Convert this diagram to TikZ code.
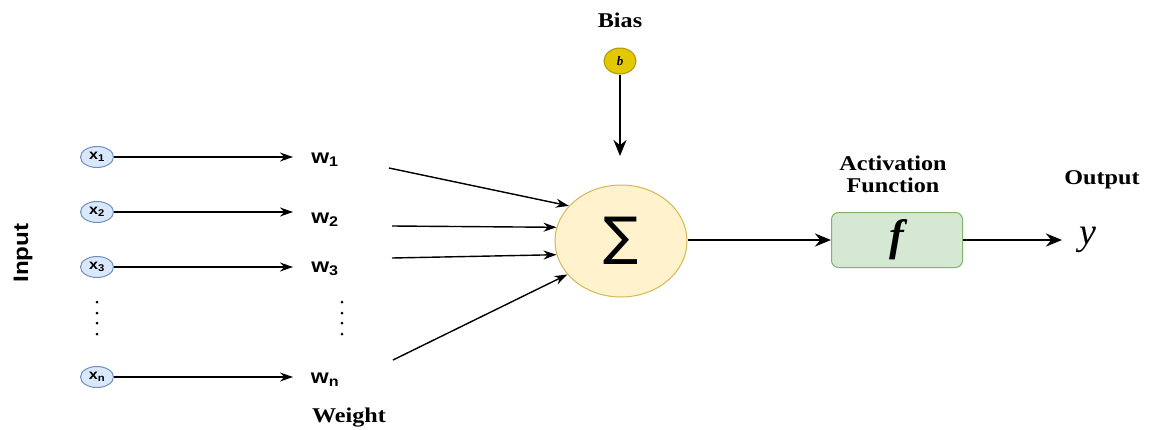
\documentclass[tikz,border=0pt]{standalone}
\usepackage{fontspec}
\usetikzlibrary{shapes.geometric,arrows.meta}
\newfontfamily\lsans[FakeStretch=1.15]{Liberation Sans}
\newfontfamily\lserif[FakeStretch=1.15]{Liberation Serif}
\newfontfamily\lserifplain{Liberation Serif}
\newfontfamily\dvsans{DejaVu Sans}
\font\fbi="Liberation Serif/BI" at 44pt
\definecolor{inFill}{HTML}{DAE8FC}
\definecolor{inLine}{HTML}{6C8EBF}
\definecolor{bFill}{HTML}{E3C800}
\definecolor{bLine}{HTML}{B09500}
\definecolor{sFill}{HTML}{FFF2CC}
\definecolor{sLine}{HTML}{D6B656}
\definecolor{fFill}{HTML}{D5E8D4}
\definecolor{fLine}{HTML}{82B366}
\begin{document}
\begin{tikzpicture}[x=1pt,y=-1pt,
  xin/.style={ellipse,draw=inLine,fill=inFill,line width=1pt,minimum width=33pt,minimum height=21pt,inner sep=0pt,font=\lsans\bfseries\fontsize{14}{14}\selectfont},
  wlab/.style={inner sep=0pt,font=\lsans\bfseries\fontsize{20}{20}\selectfont},
  ttl/.style={inner sep=0pt,font=\lserif\bfseries\fontsize{21}{22}\selectfont,align=center},
  thin/.style={line width=1.4pt,-{Stealth[length=13pt,width=9pt]}},
  thick/.style={line width=2.8pt,-{Stealth[length=16pt,width=13pt]}},
  dotm/.style={circle,fill=black,inner sep=0pt,minimum size=3pt}]
\useasboundingbox (0,0) rectangle (1149,429);
% inputs
\node[xin] (x1) at (97,157) {x\textsubscript{1}};
\node[xin] (x2) at (97,212) {x\textsubscript{2}};
\node[xin] (x3) at (97,267) {x\textsubscript{3}};
\node[xin] (xn) at (97,377) {x\textsubscript{n}};
% weights
\node[wlab] (w1) at (325,160) {w\textsubscript{1}};
\node[wlab] (w2) at (325,220) {w\textsubscript{2}};
\node[wlab] (w3) at (325,269) {w\textsubscript{3}};
\node[wlab] (wn) at (325,380) {w\textsubscript{n}};
\coordinate (e1) at (293,157);
\coordinate (e2) at (293,212);
\coordinate (e3) at (293,267);
\coordinate (en) at (293,377);
\draw[thin] (x1) -- (e1);
\draw[thin] (x2) -- (e2);
\draw[thin] (x3) -- (e3);
\draw[thin] (xn) -- (en);
% dots
\foreach \yy in {302,313,323,334} {
  \node[dotm] at (97,\yy) {};
  \node[dotm] at (342,\yy) {};
}
% sum
\node[ellipse,draw=sLine,fill=sFill,line width=1pt,minimum width=132pt,minimum height=112pt,inner sep=0pt] (sig) at (621,241) {\dvsans\fontsize{52}{52}\selectfont ∑};
\coordinate (s1) at (389,168);
\coordinate (s2) at (392,226);
\coordinate (s3) at (392,258);
\coordinate (s4) at (393,360);
\draw[thin] (s1) -- (sig.146);
\draw[thin] (s2) -- (sig.168);
\draw[thin] (s3) -- (sig.192);
\draw[thin] (s4) -- (sig.212);
% bias
\node[ellipse,draw=bLine,fill=bFill,line width=1pt,minimum width=32pt,minimum height=26pt,inner sep=0pt] (b) at (620,61) {\lserifplain\bfseries\itshape\fontsize{13}{13}\selectfont b};
\coordinate (bt) at (620,156);
\draw[thick] (b) -- (bt);
\node[ttl] (bias) at (620,20) {Bias};
% activation
\node[rectangle,rounded corners=7pt,draw=fLine,fill=fFill,line width=1pt,minimum width=131pt,minimum height=55pt,inner sep=0pt] (f) at (897,240) {\fbi f};
\draw[thick] (sig.east |- f.west) -- (f.west);
\node[inner sep=0pt,font=\lserifplain\itshape\fontsize{38}{38}\selectfont] (y) at (1088,240) {y};
\coordinate (yt) at (1062,240);
\draw[thick] (f.east) -- (yt);
% titles
\node[ttl] (act) at (893,174) {Activation\\Function};
\node[ttl] (out) at (1102,180) {Output};
\node[ttl] (wt) at (349,418) {Weight};
\node[inner sep=0pt,rotate=90,font=\lsans\bfseries\fontsize{21}{21}\selectfont] (inp) at (23,253) {Input};
\end{tikzpicture}
\end{document}
